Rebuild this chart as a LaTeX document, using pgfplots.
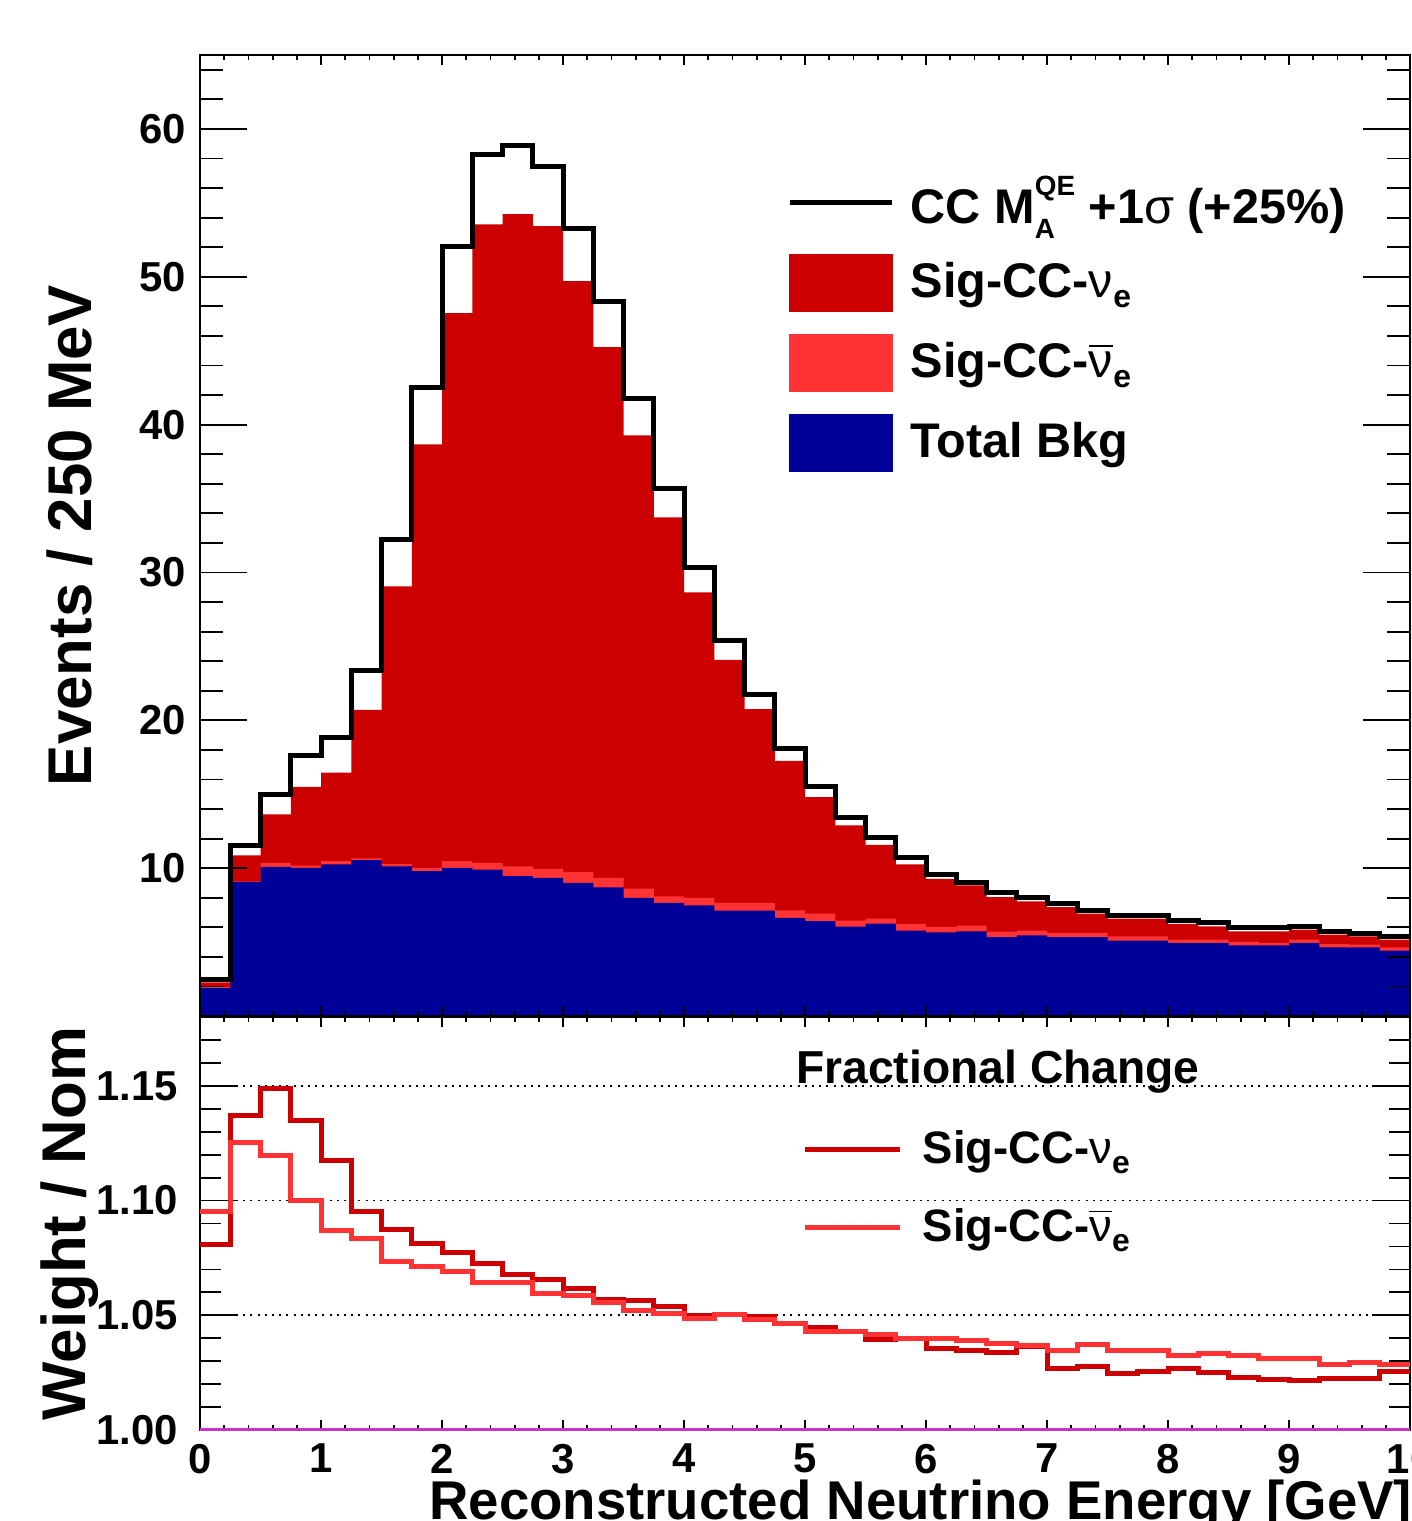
\documentclass[border=0pt]{standalone}
\usepackage{pgfplots}
\pgfplotsset{compat=1.18}
\usepackage{pgfplotstable}
\usepackage{fontspec}
\setmainfont{Liberation Sans}

\definecolor{signue}{RGB}{204,0,0}
\definecolor{signuebar}{RGB}{255,51,51}
\definecolor{bkg}{RGB}{0,0,153}
\definecolor{unity}{RGB}{204,51,204}

\newcommand{\fs}[1]{\fontsize{#1}{#1}\selectfont\bfseries}
\newcommand{\nue}{{\mdseries ν}}
\newcommand{\nubar}{$\overline{\mbox{\mdseries ν}}$}
\newcommand{\sube}{\raisebox{-2.6bp}{\fs{8}e}}

% bin low edge | stacked tops: bkg, bkg+nuebar, nominal total | total with MA +1 sigma
\pgfplotstableread{
x     bkg    bkgnb  nom    shift
0.00  1.89   1.95   2.28   2.46
0.25  9.07   9.10   10.86  11.56
0.50  10.09  10.36  13.64  14.99
0.75  10.02  10.18  15.50  17.63
1.00  10.25  10.47  16.46  18.83
1.25  10.54  10.66  20.70  23.40
1.50  10.13  10.29  29.06  32.20
1.75  9.80   10.02  38.66  42.54
2.00  10.02  10.47  47.55  52.07
2.25  9.91   10.36  53.54  58.24
2.50  9.46   10.13  54.24  58.85
2.75  9.34   9.95   53.43  57.49
3.00  9.00   9.75   49.70  53.27
3.25  8.70   9.34   45.25  48.35
3.50  7.99   8.62   39.27  41.75
3.75  7.65   8.10   33.73  35.70
4.00  7.49   7.99   28.65  30.35
4.25  7.13   7.65   24.09  25.38
4.50  7.13   7.65   20.75  21.72
4.75  6.63   7.15   17.25  18.10
5.00  6.41   6.93   14.80  15.50
5.25  6.05   6.46   12.90  13.45
5.50  6.25   6.59   11.57  12.10
5.75  5.78   6.23   10.25  10.75
6.00  5.66   6.02   9.28   9.60
6.25  5.73   6.11   8.83   9.05
6.50  5.33   5.70   8.05   8.38
6.75  5.46   5.78   7.76   8.03
7.00  5.33   5.62   7.36   7.58
7.25  5.33   5.62   6.93   7.15
7.50  5.10   5.39   6.59   6.82
7.75  5.10   5.39   6.59   6.82
8.00  4.94   5.17   6.23   6.46
8.25  4.94   5.17   6.07   6.30
8.50  4.78   5.01   5.73   5.96
8.75  4.78   4.94   5.73   5.96
9.00  4.94   5.17   5.85   6.07
9.25  4.65   4.87   5.51   5.73
9.50  4.65   4.83   5.39   5.58
9.75  4.42   4.65   5.17   5.35
10.00 4.42   4.65   5.17   5.35
}\stack

% weight / nominal
\pgfplotstableread{
x     nue     nuebar
0.00  1.0809  1.0951
0.25  1.1370  1.1254
0.50  1.1490  1.1196
0.75  1.1350  1.0999
1.00  1.1176  1.0870
1.25  1.0951  1.0835
1.50  1.0875  1.0733
1.75  1.0812  1.0711
2.00  1.0772  1.0689
2.25  1.0724  1.0641
2.50  1.0678  1.0641
2.75  1.0656  1.0595
3.00  1.0617  1.0586
3.25  1.0568  1.0554
3.50  1.0565  1.0520
3.75  1.0540  1.0510
4.00  1.0500  1.0488
4.25  1.0503  1.0503
4.50  1.0495  1.0481
4.75  1.0463  1.0463
5.00  1.0447  1.0430
5.25  1.0430  1.0430
5.50  1.0394  1.0415
5.75  1.0401  1.0401
6.00  1.0357  1.0397
6.25  1.0347  1.0390
6.50  1.0340  1.0378
6.75  1.0365  1.0367
7.00  1.0270  1.0347
7.25  1.0277  1.0372
7.50  1.0245  1.0347
7.75  1.0255  1.0347
8.00  1.0270  1.0324
8.25  1.0252  1.0335
8.50  1.0230  1.0324
8.75  1.0222  1.0310
9.00  1.0214  1.0310
9.25  1.0226  1.0284
9.50  1.0226  1.0294
9.75  1.0255  1.0284
10.00 1.0255  1.0284
}\ratio

\pgfplotsset{
  rootstyle/.style={
    scale only axis, width=302.5bp,
    xmin=0, xmax=10,
    tick align=inside,
    xtick={0,1,...,10}, minor x tick num=4,
    xtick style={/pgfplots/major tick length=2.5bp,/pgfplots/minor tick length=1.25bp},
    every tick/.append style={black, line width=0.45bp},
    axis line style={line width=0.5bp},
    ticklabel style={font=\fs{10.5}},
    /pgf/number format/assume math mode=true,
    every axis y label/.style={at={(axis description cs:-0.1074,0.5)}, rotate=90, anchor=center, font=\fs{15.5}},
    legend style={draw=none, fill=none, inner sep=0pt, row sep=0pt, column sep=2bp, cells={anchor=west}},
  },
}

\begin{document}
\begin{tikzpicture}

% ---------- upper pad: stacked spectrum ----------
\begin{axis}[
  rootstyle,
  axis on top,
  at={(50bp,-254bp)}, anchor=south west,
  height=240.25bp,
  ymin=0, ymax=65,
  xticklabels={},
  ytick={0,10,...,60}, yticklabels={,10,20,30,40,50,60},
  minor ytick={2,4,...,64},
  ytick style={/pgfplots/major tick length=11.75bp,/pgfplots/minor tick length=5.75bp},
  ylabel={Events / 250 MeV},
  legend style={at={(rel axis cs:0.4851,0.8886)}, anchor=north west, font=\fs{12.2}},
]
\addlegendimage{legend image code/.code={\draw[black,line width=1.25bp] (0bp,0bp)--(25.5bp,0bp); \path[draw=none,fill=none] (0bp,-10bp) rectangle (25.5bp,10bp);}}
\addlegendentry{CC M\rlap{\raisebox{-3.75bp}{\fs{7}A}}\raisebox{7bp}{\fs{7}QE} +1{\mdseries σ} (+25\%)}
\addlegendimage{legend image code/.code={\fill[signue] (0bp,-7bp) rectangle (25.5bp,7bp); \path[draw=none,fill=none] (0bp,-10bp) rectangle (25.5bp,10bp);}}
\addlegendentry{Sig-CC-\nue\sube}
\addlegendimage{legend image code/.code={\fill[signuebar] (0bp,-7bp) rectangle (25.5bp,7bp); \path[draw=none,fill=none] (0bp,-10bp) rectangle (25.5bp,10bp);}}
\addlegendentry{Sig-CC-\nubar\sube}
\addlegendimage{legend image code/.code={\fill[bkg] (0bp,-7bp) rectangle (25.5bp,7bp); \path[draw=none,fill=none] (0bp,-10bp) rectangle (25.5bp,10bp);}}
\addlegendentry{Total Bkg}

\addplot[const plot, fill=signue, draw=none, forget plot] table[x=x, y=nom] {\stack} \closedcycle;
\addplot[const plot, fill=signuebar, draw=none, forget plot] table[x=x, y=bkgnb] {\stack} \closedcycle;
\addplot[const plot, fill=bkg, draw=none, forget plot] table[x=x, y=bkg] {\stack} \closedcycle;
\addplot[const plot, black, line width=1.25bp, forget plot] table[x=x, y=shift] {\stack};
\end{axis}

% ---------- lower pad: ratio ----------
\begin{axis}[
  rootstyle,
  at={(50bp,-357.5bp)}, anchor=south west,
  height=103.25bp,
  ymin=1.0, ymax=1.18,
  ytick={1.00,1.05,1.10,1.15},
  minor ytick={1.01,1.02,...,1.18},
  yticklabel style={xshift=-2bp, /pgf/number format/fixed, /pgf/number format/fixed zerofill, /pgf/number format/precision=2},
  ytick style={/pgfplots/major tick length=9.5bp,/pgfplots/minor tick length=5.25bp},
  ymajorgrids,
  major grid style={black, line width=0.45bp, dash pattern=on 0.5bp off 1.3bp},
  ylabel={Weight / Nom},
  xlabel={Reconstructed Neutrino Energy [GeV]},
  every axis x label/.style={at={(axis description cs:1.0025,-0.2155)}, anchor=base east, inner sep=0pt, font=\fs{13.7}},
  legend style={at={(rel axis cs:0.4975,0.775)}, anchor=north west, font=\fs{11.4}, column sep=3bp},
]
\addlegendimage{legend image code/.code={\draw[signue,line width=1.25bp] (0bp,0bp)--(23.75bp,0bp); \path[draw=none,fill=none] (0bp,-9.75bp) rectangle (23.75bp,9.75bp);}}
\addlegendentry{Sig-CC-\nue\sube}
\addlegendimage{legend image code/.code={\draw[signuebar,line width=1.25bp] (0bp,0bp)--(23.75bp,0bp); \path[draw=none,fill=none] (0bp,-9.75bp) rectangle (23.75bp,9.75bp);}}
\addlegendentry{Sig-CC-\nubar\sube}

\addplot[unity, line width=0.9bp, forget plot] coordinates {(0,1) (10,1)};
\addplot[const plot, signue, line width=1.25bp, forget plot] table[x=x, y=nue] {\ratio};
\addplot[const plot, signuebar, line width=1.25bp, forget plot] table[x=x, y=nuebar] {\ratio};

\node[font=\fs{11.6}, anchor=center] at (rel axis cs:0.6595,0.8668) {Fractional Change};
\end{axis}

\pgfresetboundingbox
\path[use as bounding box] (0bp,0bp) rectangle (353bp,-380.25bp);
\end{tikzpicture}
\end{document}
